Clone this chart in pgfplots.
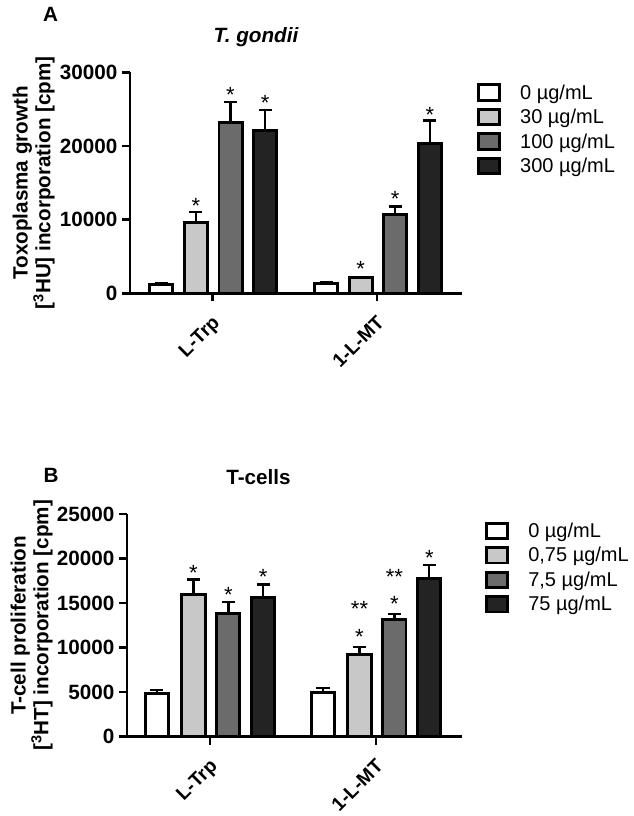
\documentclass[border=0pt]{standalone}
\usepackage{fontspec}
\setmainfont{Liberation Sans}
\usepackage{pgfplots}
\pgfplotsset{compat=1.18}
\definecolor{c1}{gray}{1}
\definecolor{c2}{HTML}{C8C8C8}
\definecolor{c3}{HTML}{6B6B6B}
\definecolor{c4}{HTML}{232323}
\newcommand\lab{\fontsize{15.5pt}{13.7pt}\selectfont}

\pgfplotsset{
  panel/.style={
    scale only axis,
    axis lines*=left,
    axis line style={line width=2.2pt, black},
    xmin=-0.5, xmax=1.515, ymin=0,
    xtick={0,1}, xticklabels={L-Trp,1-L-MT},
    tick align=outside, major tick length=6pt,
    tick style={line width=2pt, black},
    x tick label style={xshift=-1pt, yshift=-5pt, rotate=45, anchor=north east,
      font=\fontsize{14.5pt}{14.5pt}\selectfont\bfseries},
    y tick label style={font=\lab\bfseries},
    /pgf/number format/assume math mode=true,
    /pgf/number format/1000 sep={},
    scaled y ticks=false,
    ylabel style={align=center, font=\lab\bfseries, anchor=center},
    legend cell align=left,
    legend image code/.code={\draw[#1, line width=2.2pt] (0pt,-5.5pt) rectangle (15.5pt,6pt);},
    legend style={draw=none, fill=none, font=\fontsize{15pt}{15pt}\selectfont, anchor=north west,
      row sep=3pt, inner sep=0pt, nodes={inner sep=1.5pt},
      /tikz/every odd column/.append style={column sep=13pt}},
  },
  bb/.style={ybar, bar width=0.14, bar shift=0pt, draw=black, fill=#1,
    /pgfplots/error bars/y dir=plus, /pgfplots/error bars/y explicit,
    /pgfplots/error bars/error bar style={line width=1.8pt, black},
    /pgfplots/error bars/error mark options={rotate=90, mark size=4.9pt, line width=1.8pt, black}},
  stars/.style={draw=none, mark=none, forget plot, nodes near coords,
    point meta=explicit symbolic,
    nodes near coords style={font=\fontsize{16.5pt}{16.5pt}\selectfont, anchor=base, yshift=-9.4pt, inner sep=0pt}},
}

\pgfplotstableread{
x y e
-0.31 1200 150
0.69 1300 150
}\Aa
\pgfplotstableread{
x y e
-0.10 9600 1400
0.90 2100 120
}\Ab
\pgfplotstableread{
x y e
0.11 23200 2800
1.11 10700 1100
}\Ac
\pgfplotstableread{
x y e
0.32 22100 2800
1.32 20300 3150
}\Ad
\pgfplotstableread{
x y m
-0.10 12490 *
0.11 27630 *
0.32 26540 *
0.90 3950 *
1.11 13500 *
1.32 24860 *
}\As

\pgfplotstableread{
x y e
-0.32 4800 450
0.68 4950 500
}\Ba
\pgfplotstableread{
x y e
-0.10 16000 1650
0.90 9250 850
}\Bb
\pgfplotstableread{
x y e
0.11 13800 1300
1.11 13150 650
}\Bc
\pgfplotstableread{
x y e
0.32 15600 1500
1.32 17800 1500
}\Bd
\pgfplotstableread{
x y m
-0.10 18970 *
0.11 16470 *
0.32 18520 *
0.90 11740 *
0.90 14850 **
1.11 15410 *
1.11 18520 **
1.32 20660 *
}\Bs

\begin{document}
\begin{tikzpicture}
\useasboundingbox (0,0) rectangle (475.5pt,612pt);

\begin{axis}[panel, at={(97.5pt,392pt)}, anchor=south west,
  width=249pt, height=165.75pt, ymax=30000,
  ytick={0,10000,20000,30000},
  ylabel={Toxoplasma growth\\{[}\textsuperscript{3}HU{]} incorporation {[}cpm{]}},
  ylabel style={at={(rel axis cs:-0.29,0.5)}},
  legend style={at={(rel axis cs:1.045,0.955)}},
]
\addplot[bb=c1, line width=2.2pt] table[x=x,y=y,y error=e]{\Aa};
\addplot[bb=c2, line width=2.2pt] table[x=x,y=y,y error=e]{\Ab};
\addplot[bb=c3, line width=2.2pt] table[x=x,y=y,y error=e]{\Ac};
\addplot[bb=c4, line width=2.2pt] table[x=x,y=y,y error=e]{\Ad};
\addplot[stars] table[x=x,y=y,meta=m]{\As};
\legend{0 µg/mL,30 µg/mL,100 µg/mL,300 µg/mL}
\end{axis}

\begin{axis}[panel, at={(95.25pt,59.5pt)}, anchor=south west,
  width=251pt, height=167pt, ymax=25000,
  ytick={0,5000,10000,15000,20000,25000},
  ylabel={T-cell proliferation\\{[}\textsuperscript{3}HT{]} incorporation {[}cpm{]}},
  ylabel style={at={(rel axis cs:-0.285,0.5)}},
  legend style={at={(rel axis cs:1.07,0.97)}},
]
\addplot[bb=c1, line width=2.2pt] table[x=x,y=y,y error=e]{\Ba};
\addplot[bb=c2, line width=2.2pt] table[x=x,y=y,y error=e]{\Bb};
\addplot[bb=c3, line width=2.2pt] table[x=x,y=y,y error=e]{\Bc};
\addplot[bb=c4, line width=2.2pt] table[x=x,y=y,y error=e]{\Bd};
\addplot[stars] table[x=x,y=y,meta=m]{\Bs};
\legend{0 µg/mL,{0,75 µg/mL},{7,5 µg/mL},75 µg/mL}
\end{axis}

\node[font=\lab\bfseries, anchor=base] at (37.9pt,595.5pt) {A};
\node[font=\lab\bfseries\itshape, anchor=base] at (192pt,579.75pt) {T. gondii};
\node[font=\lab\bfseries, anchor=base] at (38.25pt,250pt) {B};
\node[font=\lab\bfseries, anchor=base] at (193.9pt,248.25pt) {T-cells};
\end{tikzpicture}
\end{document}
